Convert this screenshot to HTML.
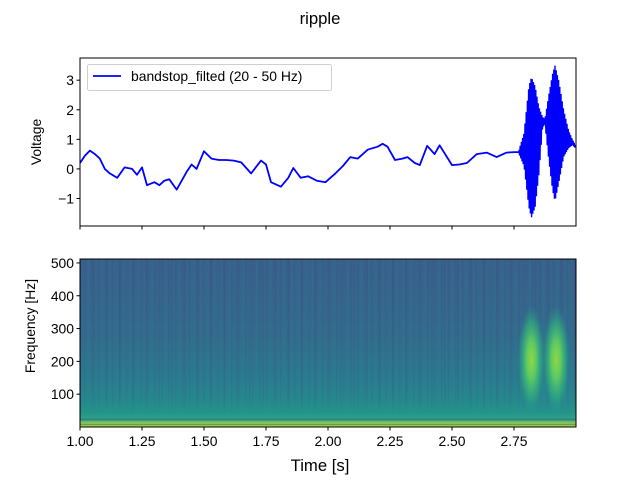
<!DOCTYPE html>
<html><head><meta charset="utf-8"><style>
body{margin:0;background:#fff;}
svg{font-family:"Liberation Sans","DejaVu Sans",sans-serif;}
</style></head><body>
<svg id="chart" width="640" height="480" viewBox="0 0 640 480">
<defs>
  <linearGradient id="specBase" x1="0" y1="0" x2="0" y2="1">
    <stop offset="0" stop-color="#38608b"/>
    <stop offset="0.45" stop-color="#336b8d"/>
    <stop offset="0.7" stop-color="#2b7a8e"/>
    <stop offset="0.85" stop-color="#26898d"/>
    <stop offset="0.92" stop-color="#23968a"/>
    <stop offset="0.945" stop-color="#2ba085"/>
    <stop offset="0.955" stop-color="#2d7f8e"/>
    <stop offset="0.97" stop-color="#6cc35e"/>
    <stop offset="0.985" stop-color="#b5dd2b"/>
    <stop offset="1" stop-color="#90d743"/>
  </linearGradient>
  <pattern id="stripesA" width="7" height="10" patternUnits="userSpaceOnUse">
    <rect x="0" y="0" width="1.5" height="10" fill="#3b4f8a" opacity="0.22"/>
    <rect x="4" y="0" width="1.5" height="10" fill="#2a8a8c" opacity="0.15"/>
  </pattern>
  <pattern id="stripesB" width="13" height="10" patternUnits="userSpaceOnUse">
    <rect x="2" y="0" width="2" height="10" fill="#414487" opacity="0.18"/>
    <rect x="9" y="0" width="1.5" height="10" fill="#2a8a8c" opacity="0.12"/>
  </pattern>
  <linearGradient id="stripeFade" x1="0" y1="0" x2="0" y2="1">
    <stop offset="0" stop-color="#fff" stop-opacity="1"/>
    <stop offset="0.8" stop-color="#fff" stop-opacity="0.6"/>
    <stop offset="0.92" stop-color="#fff" stop-opacity="0"/>
  </linearGradient>
  <mask id="stripeMask"><rect x="80" y="259" width="496" height="168" fill="url(#stripeFade)"/></mask>
  <radialGradient id="blob" cx="0.5" cy="0.5" r="0.5">
    <stop offset="0" stop-color="#8fd744"/>
    <stop offset="0.35" stop-color="#5ec962"/>
    <stop offset="0.7" stop-color="#2fb47c" stop-opacity="0.6"/>
    <stop offset="1" stop-color="#21918c" stop-opacity="0"/>
  </radialGradient>
  <clipPath id="topClip"><rect x="80" y="58" width="496" height="168"/></clipPath>
  <clipPath id="botClip"><rect x="80" y="259" width="496" height="168"/></clipPath>
</defs>
<text x="320" y="24" font-size="16.7" text-anchor="middle" fill="#000">ripple</text>

<g id="topAxes"></g>
<g id="botAxes"></g>
</svg>
<script>
// ---- Voltage trace data ----
const sigTimes = [1.00,1.02,1.04,1.06,1.08,1.10,1.12,1.15,1.18,1.21,1.23,1.25,1.27,1.30,1.32,1.34,1.36,1.39,1.41,1.43,1.45,1.47,1.50,1.53,1.56,1.59,1.62,1.65,1.69,1.73,1.75,1.77,1.81,1.84,1.86,1.89,1.92,1.955,1.99,2.03,2.06,2.09,2.12,2.16,2.20,2.22,2.24,2.27,2.30,2.32,2.35,2.37,2.40,2.43,2.45,2.48,2.50,2.53,2.56,2.60,2.64,2.68,2.72,2.75,2.77];
const sigValues = [0.2,0.45,0.62,0.5,0.35,0.0,-0.15,-0.3,0.05,0.0,-0.2,0.05,-0.55,-0.45,-0.55,-0.4,-0.35,-0.7,-0.4,-0.1,0.15,0.0,0.6,0.35,0.3,0.3,0.28,0.22,-0.15,0.28,0.15,-0.45,-0.6,-0.3,0.03,-0.3,-0.25,-0.4,-0.45,-0.15,0.1,0.4,0.35,0.65,0.75,0.85,0.75,0.3,0.35,0.4,0.2,0.13,0.78,0.5,0.8,0.4,0.13,0.15,0.2,0.5,0.55,0.4,0.55,0.57,0.57];
// ---- Ripple burst envelope ----
const burstTimes = [2.77,2.79,2.80,2.81,2.82,2.835,2.85,2.865,2.875,2.89,2.905,2.915,2.93,2.95,2.97,2.985,2.998];
const burstUpper = [0.65,1.2,2.0,2.8,3.1,2.8,2.1,1.75,1.7,2.5,3.2,3.5,3.0,2.0,1.3,1.0,0.8];
const burstLower = [0.5,0.1,-0.6,-1.3,-1.65,-1.3,-0.2,1.4,1.5,0.3,-0.7,-1.1,-0.5,0.4,0.7,0.8,0.7];
const voltTicks = [-1,0,1,2,3];
const timeTicks = [1.00,1.25,1.50,1.75,2.00,2.25,2.50,2.75];
const timeTickLabels = ["1.00","1.25","1.50","1.75","2.00","2.25","2.50","2.75"];
// ---- Spectrogram ----
const freqTicks = [100,200,300,400,500];
const blobTimes = [2.82,2.92];
const blobFreqs = [205,205];

const NS="http://www.w3.org/2000/svg";
const FS=13.9;
const X0=80,X1=576,T0=1.0,T1=3.0;
const xs=t=>X0+(t-T0)/(T1-T0)*(X1-X0);
const TY0=58,TY1=226,V0=-1.93,V1=3.75;
const yv=v=>TY1-(v-V0)/(V1-V0)*(TY1-TY0);
const BY0=259,BY1=427,F0=0,F1=512;
const yf=f=>BY1-(f-F0)/(F1-F0)*(BY1-BY0);
function mk(tag,attrs,parent){const e=document.createElementNS(NS,tag);for(const k in attrs)e.setAttribute(k,attrs[k]);parent.appendChild(e);return e;}
function interp(ts,vs,t){for(let i=0;i<ts.length-1;i++){if(t>=ts[i]&&t<=ts[i+1]){const f=(t-ts[i])/(ts[i+1]-ts[i]);return vs[i]+f*(vs[i+1]-vs[i]);}}return t<ts[0]?vs[0]:vs[vs.length-1];}

const topG=document.getElementById('topAxes');
const botG=document.getElementById('botAxes');

const tg=mk('g',{'clip-path':'url(#topClip)'},topG);
let pts=sigTimes.map((t,i)=>xs(t).toFixed(1)+','+yv(sigValues[i]).toFixed(1));
const line=mk('polyline',{points:pts.join(' '),fill:'none',stroke:'#0000ff','stroke-width':1.8,'stroke-linejoin':'round'},tg);


let bp=[];let k=0;
for(let x=xs(burstTimes[0]);x<=xs(burstTimes[burstTimes.length-1]);x+=0.6){
  const t=T0+(x-X0)/(X1-X0)*(T1-T0);
  const v=(k%2===0)?interp(burstTimes,burstUpper,t):interp(burstTimes,burstLower,t);
  bp.push(x.toFixed(1)+','+yv(v).toFixed(1));k++;
}
const burst=mk('polyline',{points:bp.join(' '),fill:'none',stroke:'#0000ff','stroke-width':1.4},tg);


mk('rect',{x:X0,y:TY0,width:X1-X0,height:TY1-TY0,fill:'none',stroke:'#000','stroke-width':1},topG);
voltTicks.forEach(v=>{const y=yv(v);mk('line',{x1:X0-3.5,x2:X0,y1:y,y2:y,stroke:'#000'},topG);
  const tx=mk('text',{x:X0-6,y:y+5,'font-size':FS,'text-anchor':'end'},topG);tx.textContent=v<0?'\u2212'+Math.abs(v):String(v);
  
  });
timeTicks.forEach(t=>{mk('line',{x1:xs(t),x2:xs(t),y1:TY1,y2:TY1+3.5,stroke:'#000'},topG);});
const yl=mk('text',{x:0,y:0,'font-size':FS,'text-anchor':'middle',transform:'translate(41,142) rotate(-90)'},topG);yl.textContent='Voltage';


const lg=mk('g',{},topG);


mk('rect',{x:87.5,y:64.5,width:244,height:26,rx:2,fill:'#fff','fill-opacity':0.8,stroke:'#d0d0d0'},lg);
mk('line',{x1:93,x2:121,y1:76,y2:76,stroke:'#0000ff','stroke-width':1.8},lg);
const lt=mk('text',{x:131,y:81,'font-size':FS},lg);lt.textContent='bandstop_filted (20 - 50 Hz)';



const bg=mk('g',{'clip-path':'url(#botClip)'},botG);
const base=mk('rect',{x:X0,y:BY0,width:X1-X0,height:BY1-BY0,fill:'url(#specBase)'},bg);


mk('rect',{x:X0,y:BY0,width:X1-X0,height:BY1-BY0,fill:'url(#stripesA)',mask:'url(#stripeMask)'},bg);
mk('rect',{x:X0,y:BY0,width:X1-X0,height:BY1-BY0,fill:'url(#stripesB)',mask:'url(#stripeMask)'},bg);
mk('rect',{x:X0,y:yf(10),width:X1-X0,height:1.5,fill:'#3e6a8a',opacity:0.6},bg);
blobTimes.forEach((t,i)=>{const e=mk('ellipse',{cx:xs(t),cy:yf(blobFreqs[i]),rx:14,ry:55,fill:'url(#blob)'},bg);
  
  });
mk('rect',{x:X0,y:BY0,width:X1-X0,height:BY1-BY0,fill:'none',stroke:'#000','stroke-width':1},botG);
freqTicks.forEach(f=>{const y=yf(f);mk('line',{x1:X0-3.5,x2:X0,y1:y,y2:y,stroke:'#000'},botG);
  const tx=mk('text',{x:X0-6,y:y+5,'font-size':FS,'text-anchor':'end'},botG);tx.textContent=String(f);
  
  });
timeTicks.forEach((t,i)=>{mk('line',{x1:xs(t),x2:xs(t),y1:BY1,y2:BY1+3.5,stroke:'#000'},botG);
  const tx=mk('text',{x:xs(t),y:BY1+19,'font-size':FS,'text-anchor':'middle'},botG);tx.textContent=timeTickLabels[i];
  
  });
const fl=mk('text',{x:0,y:0,'font-size':FS,'text-anchor':'middle',transform:'translate(35,326) rotate(-90)'},botG);fl.textContent='Frequency [Hz]';


const xl=mk('text',{x:320,y:471,'font-size':16.7,'text-anchor':'middle'},botG);xl.textContent='Time [s]';


</script>
</body></html>
